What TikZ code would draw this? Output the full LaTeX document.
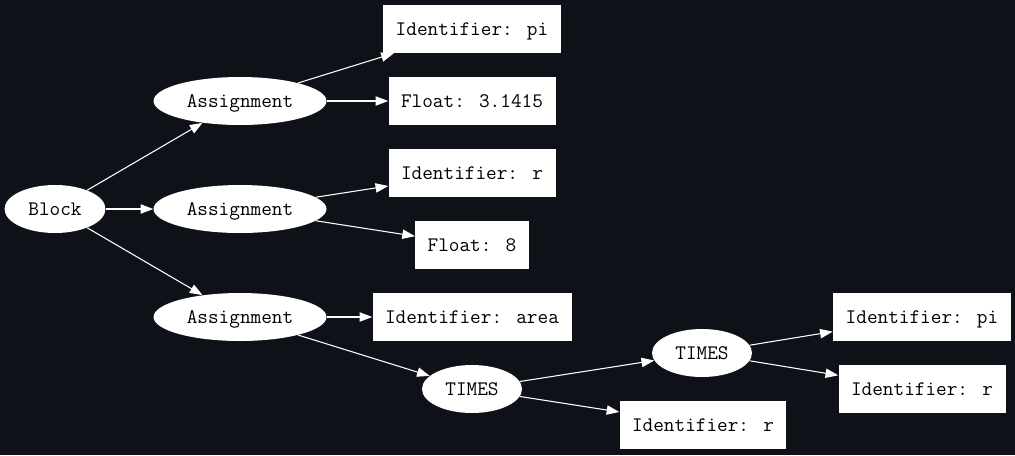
\documentclass[tikz,border=0pt]{standalone}
\usetikzlibrary{shapes.geometric,arrows.meta}
\definecolor{canvas}{HTML}{0F1119}
\definecolor{inkdark}{HTML}{000000}

\begin{document}
\begin{tikzpicture}[
  x=0.75pt, y=-0.75pt,
  font=\ttfamily\fontsize{15.5}{18}\selectfont,
  oval/.style={ellipse, fill=white, text=inkdark, inner sep=0pt, minimum height=36pt,
    text height=9.5pt, text depth=0pt},
  leaf/.style={rectangle, fill=white, text=inkdark, inner xsep=9.3pt, inner ysep=0pt, minimum height=36pt,
    text height=9.5pt, text depth=0pt},
  arr/.style={-{Triangle[length=9.5pt, width=7pt]}, draw=white, line width=0.8pt}]
\fill[canvas] (0,0) rectangle (1015,455);
% inner nodes
\node[oval, minimum width=75.75pt] (blk) at (55,209) {Block};
\node[oval, minimum width=129.75pt] (asgA) at (240,101) {Assignment};
\node[oval, minimum width=129.75pt] (asgB) at (240,209) {Assignment};
\node[oval, minimum width=129.75pt] (asgC) at (240,317) {Assignment};
\node[oval, minimum width=75pt] (mulA) at (472,389) {TIMES};
\node[oval, minimum width=75pt] (mulB) at (702,353) {TIMES};
% leaves
\node[leaf, minimum width=132.75pt] (idPi) at (472,29) {Identifier: pi};
\node[leaf, minimum width=125.25pt] (fltPi) at (472,101) {Float: 3.1415};
\node[leaf, minimum width=125.25pt] (idR) at (472,173) {Identifier: r};
\node[leaf, minimum width=83.25pt] (fltR) at (472,245) {Float: 8};
\node[leaf, minimum width=149.25pt] (idArea) at (472,317) {Identifier: area};
\node[leaf, minimum width=124.5pt] (idRb) at (703,425) {Identifier: r};
\node[leaf, minimum width=133.5pt] (idPiB) at (922,317) {Identifier: pi};
\node[leaf, minimum width=125.25pt] (idRc) at (922,389) {Identifier: r};
\draw[arr] (blk) -- (asgA);
\draw[arr] (blk) -- (asgB);
\draw[arr] (blk) -- (asgC);
\draw[arr] (asgA) -- (idPi);
\draw[arr] (asgA) -- (fltPi);
\draw[arr] (asgB) -- (idR);
\draw[arr] (asgB) -- (fltR);
\draw[arr] (asgC) -- (idArea);
\draw[arr] (asgC) -- (mulA);
\draw[arr] (mulA) -- (mulB);
\draw[arr] (mulA) -- (idRb);
\draw[arr] (mulB) -- (idPiB);
\draw[arr] (mulB) -- (idRc);
\end{tikzpicture}
\end{document}
